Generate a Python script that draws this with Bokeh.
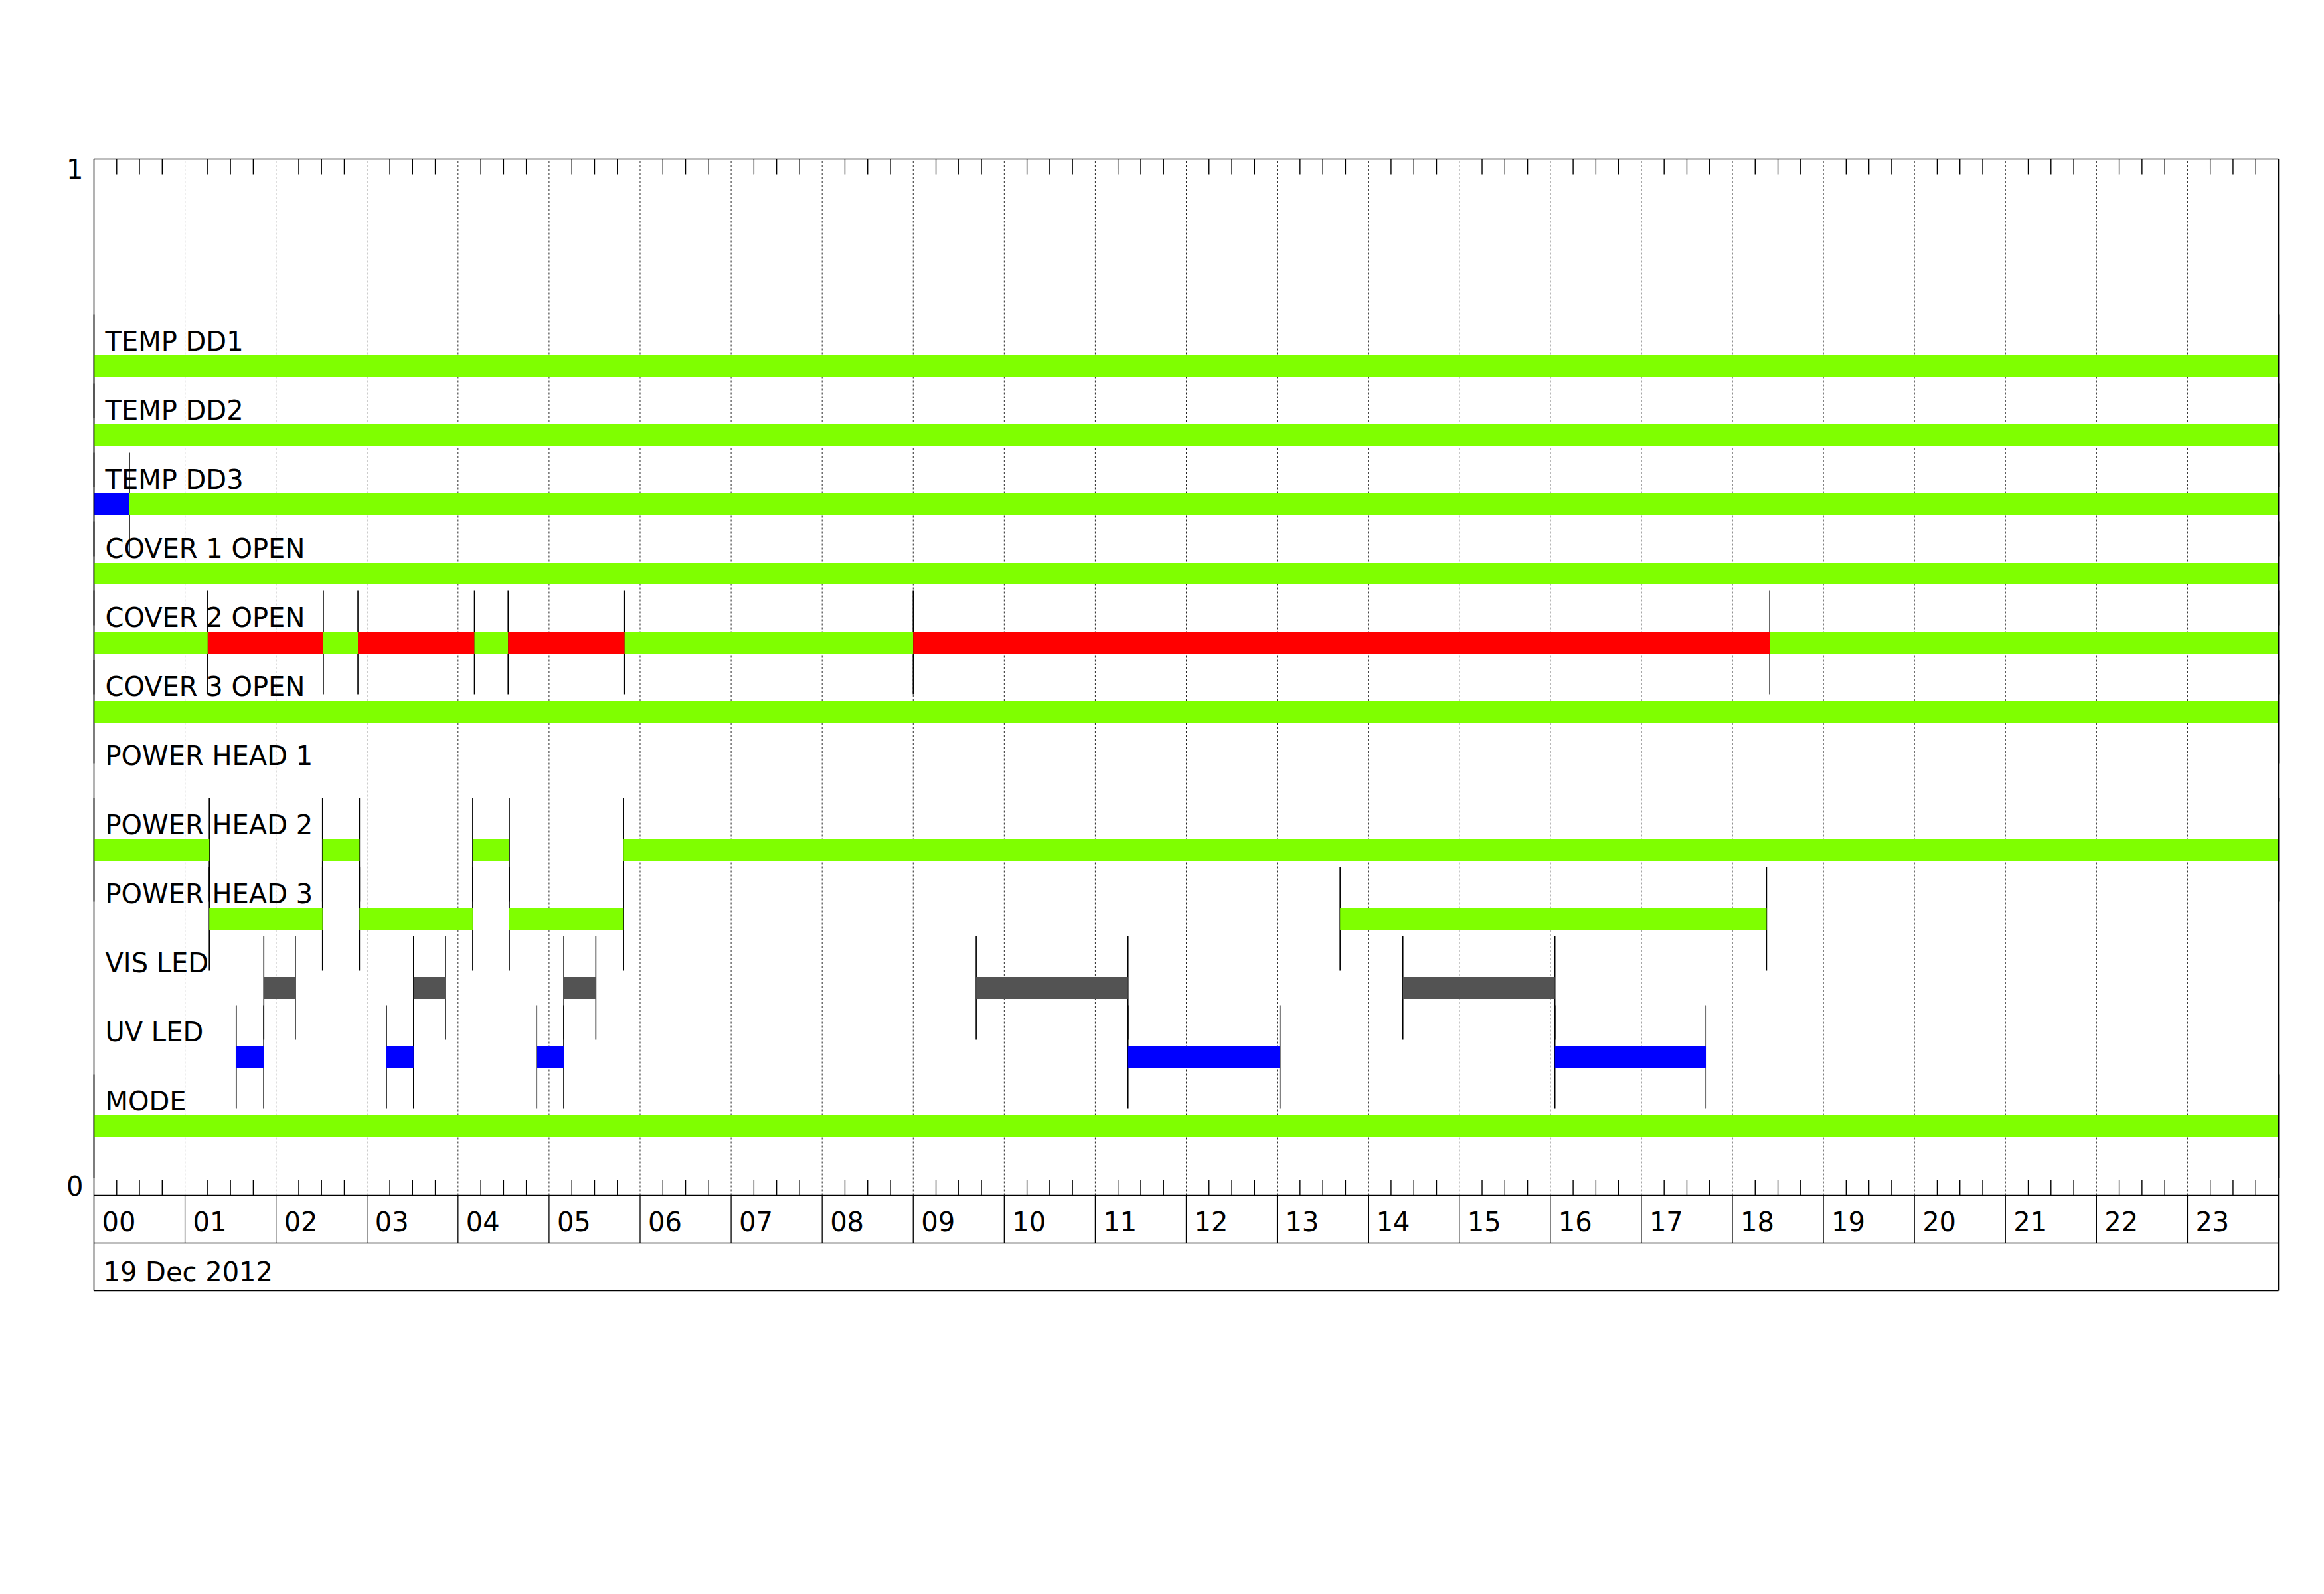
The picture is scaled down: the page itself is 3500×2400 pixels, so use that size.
from bokeh.plotting import figure
from bokeh.models import Range1d, ColumnDataSource
from bokeh.core.properties import value
from bokeh.embed import file_html
from bokeh.resources import INLINE

# ---------------- data ----------------
channels = ["TEMP DD1", "TEMP DD2", "TEMP DD3", "COVER 1 OPEN", "COVER 2 OPEN",
            "COVER 3 OPEN", "POWER HEAD 1", "POWER HEAD 2", "POWER HEAD 3",
            "VIS LED", "UV LED", "MODE"]

hour_ticks = [0, 1, 2, 3, 4, 5, 6, 7, 8, 9, 10, 11, 12, 13, 14, 15, 16, 17, 18, 19, 20, 21, 22, 23]
hour_labels = ["00", "01", "02", "03", "04", "05", "06", "07", "08", "09", "10", "11",
               "12", "13", "14", "15", "16", "17", "18", "19", "20", "21", "22", "23"]
date_label = "19 Dec 2012"
y_ticks = [0, 1]
y_tick_labels = ["0", "1"]

# state segments (hours of 19 Dec 2012)
seg_channel = (["TEMP DD1"] + ["TEMP DD2"] + ["TEMP DD3"] * 2 + ["COVER 1 OPEN"]
               + ["COVER 2 OPEN"] * 9 + ["COVER 3 OPEN"]
               + ["POWER HEAD 2"] * 4 + ["POWER HEAD 3"] * 4
               + ["VIS LED"] * 5 + ["UV LED"] * 5 + ["MODE"])
seg_start = ([0.0] + [0.0] + [0.0, 0.39] + [0.0]
             + [0.0, 1.25, 2.52, 2.90, 4.18, 4.55, 5.83, 9.00, 18.41] + [0.0]
             + [0.0, 2.511, 4.161, 5.819] + [1.267, 2.917, 4.563, 13.69]
             + [1.866, 3.511, 5.162, 9.692, 14.38]
             + [1.563, 3.213, 4.864, 11.36, 16.05] + [0.0])
seg_end = ([24.0] + [24.0] + [0.39, 24.0] + [24.0]
           + [1.25, 2.52, 2.90, 4.18, 4.55, 5.83, 9.00, 18.41, 24.0] + [24.0]
           + [1.267, 2.917, 4.563, 24.0] + [2.511, 4.161, 5.819, 18.375]
           + [2.213, 3.863, 5.514, 11.36, 16.05]
           + [1.865, 3.511, 5.161, 13.03, 17.71] + [24.0])
seg_state = (["ok"] + ["ok"] + ["low", "ok"] + ["ok"]
             + ["ok", "open", "ok", "open", "ok", "open", "ok", "open", "ok"] + ["ok"]
             + ["ok"] * 4 + ["ok"] * 4
             + ["vis"] * 5 + ["low"] * 5 + ["ok"])

state_colors = {"ok": "#7FFF00", "open": "#FF0000", "low": "#0000FF", "vis": "#535353"}

# ---------------- layout helpers ----------------
ROW_STEP = 1.0 / 15.0
BAR_H = 0.0212
MARK_HALF = 0.05
FONT = value("DejaVu Sans")
FS = "40px"
TXT_UP = 0.0105   # baseline correction for svg text

def row_center(name):
    return (len(channels) - channels.index(name)) * ROW_STEP

W, H = 3484, 2384
p = figure(width=W, height=H,
           x_range=Range1d(-1.028571, 24.386626),
           y_range=Range1d(-0.375, 1.153205),
           output_backend="svg", toolbar_location=None,
           x_axis_location=None, y_axis_location=None,
           min_border=0, title=None)
p.grid.visible = False
p.outline_line_color = None
p.background_fill_color = "white"
p.border_fill_color = "white"

# dashed hour gridlines in the main panel
gx = [h for h in hour_ticks if h > 0]
p.segment(x0=gx, y0=[0] * len(gx), x1=gx, y1=[1] * len(gx),
          line_color="black", line_width=1, line_dash="3 3", line_alpha=0.85)

# minor ticks every 15 minutes, top and bottom
minor = [h + q for h in hour_ticks for q in (0.25, 0.5, 0.75)]
tick_len = 23 / 1560
p.segment(x0=minor, y0=[1] * len(minor), x1=minor, y1=[1 - tick_len] * len(minor),
          line_color="black", line_width=1.4)
p.segment(x0=minor, y0=[0] * len(minor), x1=minor, y1=[tick_len] * len(minor),
          line_color="black", line_width=1.4)

# transition marker lines
mx, my0, my1 = [], [], []
for name in channels:
    c = row_center(name)
    bounds = sorted({v for ch, s, e in zip(seg_channel, seg_start, seg_end)
                     if ch == name for v in (s, e)})
    for b in bounds:
        mx.append(b)
        my0.append(c - MARK_HALF)
        my1.append(c + MARK_HALF)
p.segment(x0=mx, y0=my0, x1=mx, y1=my1, line_color="black", line_width=1.6)

# state bars
bars = ColumnDataSource(dict(
    y=[row_center(ch) for ch in seg_channel],
    left=seg_start, right=seg_end,
    color=[state_colors[s] for s in seg_state]))
p.hbar(y="y", left="left", right="right", height=BAR_H, source=bars,
       fill_color="color", line_color=None)

# channel labels
p.text(x=[0.124] * len(channels),
       y=[row_center(ch) + BAR_H / 2 + 0.003 + TXT_UP for ch in channels],
       text=channels, text_font=FONT, text_font_size=FS,
       text_color="black", text_align="left", text_baseline="alphabetic")

# frame + time axis boxes
row1 = -72 / 1560
row2 = -144 / 1560
p.segment(x0=[0, 24, 0, 0, 0, 0], y0=[row2, row2, 1, 0, row1, row2],
          x1=[0, 24, 24, 24, 24, 24], y1=[1, 1, 1, 0, row1, row2],
          line_color="black", line_width=1.6)
p.segment(x0=gx, y0=[0] * len(gx), x1=gx, y1=[row1] * len(gx),
          line_color="black", line_width=1.3)

# hour labels
p.text(x=[h + 0.0875 for h in hour_ticks], y=[-0.0359 + TXT_UP] * len(hour_ticks),
       text=hour_labels, text_font=FONT, text_font_size=FS, text_color="black",
       text_align="left", text_baseline="alphabetic")
# date label
p.text(x=[0.102], y=[-0.0846 + TXT_UP], text=[date_label], text_font=FONT,
       text_font_size=FS, text_color="black", text_align="left",
       text_baseline="alphabetic")

# y tick labels (0 at bottom, 1 at top)
p.text(x=[-0.117], y=[y_ticks[0]], text=[y_tick_labels[0]], text_font=FONT,
       text_font_size=FS, text_color="black", text_align="right",
       text_baseline="bottom")
p.text(x=[-0.117], y=[y_ticks[1]], text=[y_tick_labels[1]], text_font=FONT,
       text_font_size=FS, text_color="black", text_align="right",
       text_baseline="top")

open("out.html", "w").write(file_html(p, INLINE))
